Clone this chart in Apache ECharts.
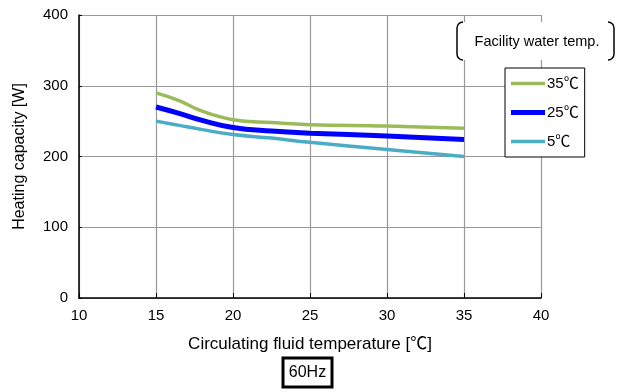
<!DOCTYPE html>
<html><head><meta charset="utf-8">
<script src="https://cdn.jsdelivr.net/npm/echarts@6/dist/echarts.min.js"></script>
<style>html,body{margin:0;padding:0;background:#fff}#c{width:619px;height:392px}</style>
</head><body><div id="c"></div>
<script>
const temps = [15, 16.5, 18, 20, 22.5, 25, 30, 35];
const s35 = [290, 279, 264, 252, 248, 245, 243, 240];
const s25 = [270, 261, 251, 241, 236, 233, 229, 224];
const s5  = [250, 244, 238, 231, 226, 220, 210, 200];
const seriesNames = ['35℃', '25℃', '5℃'];
const xTicks = [10, 15, 20, 25, 30, 35, 40];
const yTicks = [0, 100, 200, 300, 400];

const FONT = '"Liberation Sans", "Noto Sans CJK JP", sans-serif';
const chart = echarts.init(document.getElementById('c'));
const pairs = arr => temps.map((t, i) => [t, arr[i]]);
const P = Math.PI;
chart.setOption({
  animation: false,
  backgroundColor: '#fff',
  textStyle: { fontFamily: FONT, color: '#000' },
  grid: { left: 79, right: 78, top: 15, bottom: 94 },
  xAxis: {
    type: 'value', min: xTicks[0], max: xTicks[xTicks.length - 1], interval: 5,
    name: 'Circulating fluid temperature [℃]', nameLocation: 'middle', nameGap: 38,
    nameTextStyle: { fontSize: 17, color: '#000', fontFamily: FONT },
    axisLine: { show: true, onZero: false, lineStyle: { color: '#000', width: 1.5 } },
    axisTick: { show: true, inside: true, length: 5, lineStyle: { color: '#000' } },
    axisLabel: { fontSize: 15, color: '#000', margin: 10, fontFamily: FONT },
    splitLine: { show: true, lineStyle: { color: '#999', width: 1.2 } }
  },
  yAxis: {
    type: 'value', min: yTicks[0], max: yTicks[yTicks.length - 1], interval: 100,
    name: 'Heating capacity [W]', nameLocation: 'middle', nameGap: 51,
    nameTextStyle: { fontSize: 16, color: '#000', fontFamily: FONT },
    axisLine: { show: true, lineStyle: { color: '#000', width: 1.5 } },
    axisTick: { show: true, inside: true, length: 3, lineStyle: { color: '#000' } },
    axisLabel: { fontSize: 15, color: '#000', margin: 11, fontFamily: FONT },
    splitLine: { show: true, lineStyle: { color: '#999', width: 1.2 } }
  },
  legend: {
    show: true, orient: 'vertical', left: 505, top: 68,
    padding: [8, 6, 8, 6], itemGap: 14, itemWidth: 34, itemHeight: 18,
    backgroundColor: '#fff', borderColor: '#000', borderWidth: 1,
    textStyle: { fontSize: 15, color: '#000', padding: [4, 0, 0, -3], fontFamily: FONT },
    data: [
      { name: seriesNames[0], icon: 'path://M0,0H34V3.5H0Z' },
      { name: seriesNames[1], icon: 'path://M0,0H34V5H0Z' },
      { name: seriesNames[2], icon: 'path://M0,0H34V3.5H0Z' }
    ]
  },
  series: [
    { name: seriesNames[0], type: 'line', smooth: 0.45, showSymbol: false, data: pairs(s35),
      lineStyle: { color: '#9BBB59', width: 3.5 }, itemStyle: { color: '#9BBB59' }, z: 3 },
    { name: seriesNames[1], type: 'line', smooth: 0.45, showSymbol: false, data: pairs(s25),
      lineStyle: { color: '#0000FF', width: 5 }, itemStyle: { color: '#0000FF' }, z: 3 },
    { name: seriesNames[2], type: 'line', smooth: 0.45, showSymbol: false, data: pairs(s5),
      lineStyle: { color: '#4BACC6', width: 3.5 }, itemStyle: { color: '#4BACC6' }, z: 3 }
  ],
  graphic: [
    { type: 'rect', shape: { x: 457, y: 22, width: 157, height: 38 }, style: { fill: '#fff' }, z: 10 },
    { type: 'arc', shape: { cx: 463, cy: 28, r: 6, startAngle: P, endAngle: 1.5 * P, clockwise: true }, style: { fill: null, stroke: '#000', lineWidth: 1.5 }, z: 11 },
    { type: 'arc', shape: { cx: 463, cy: 54, r: 6, startAngle: 0.5 * P, endAngle: P, clockwise: true }, style: { fill: null, stroke: '#000', lineWidth: 1.5 }, z: 11 },
    { type: 'line', shape: { x1: 457, y1: 28, x2: 457, y2: 54 }, style: { stroke: '#000', lineWidth: 1.5 }, z: 11 },
    { type: 'arc', shape: { cx: 608, cy: 28, r: 6, startAngle: 1.5 * P, endAngle: 2 * P, clockwise: true }, style: { fill: null, stroke: '#000', lineWidth: 1.5 }, z: 11 },
    { type: 'arc', shape: { cx: 608, cy: 54, r: 6, startAngle: 0, endAngle: 0.5 * P, clockwise: true }, style: { fill: null, stroke: '#000', lineWidth: 1.5 }, z: 11 },
    { type: 'line', shape: { x1: 614, y1: 28, x2: 614, y2: 54 }, style: { stroke: '#000', lineWidth: 1.5 }, z: 11 },
    { type: 'text', x: 537, y: 42, style: { text: 'Facility water temp.', fontSize: 14.5, fill: '#000', align: 'center', verticalAlign: 'middle', fontFamily: FONT }, z: 11 },
    { type: 'rect', shape: { x: 283, y: 358, width: 49, height: 29 }, style: { fill: '#fff', stroke: '#000', lineWidth: 3 }, z: 10 },
    { type: 'text', x: 307.5, y: 373, style: { text: '60Hz', fontSize: 16, fill: '#000', align: 'center', verticalAlign: 'middle', fontFamily: FONT }, z: 11 }
  ]
});
</script></body></html>
